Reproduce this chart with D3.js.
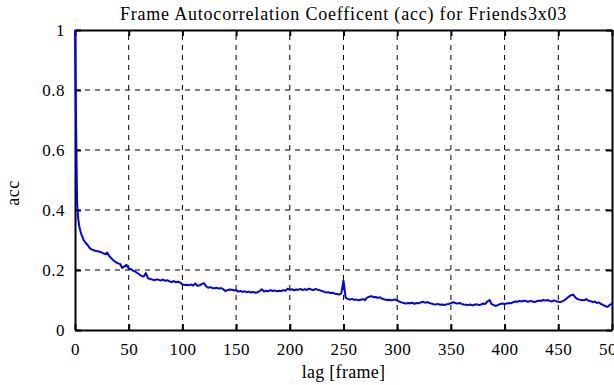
<!DOCTYPE html>
<html><head><meta charset="utf-8">
<script src="https://cdn.jsdelivr.net/npm/d3@7"></script>
<style>body{margin:0;background:#fff}svg{display:block}text{font-family:"Liberation Serif","DejaVu Serif",serif;fill:#000}</style>
</head><body><div id="chart"></div>
<script>
const title = "Frame Autocorrelation Coefficent (acc) for Friends3x03";
const xLabel = "lag [frame]";
const yLabel = "acc";
const xTicks = [0,50,100,150,200,250,300,350,400,450,500];
const yTicks = [0,0.2,0.4,0.6,0.8,1];
// lags 0..10 (every frame)
const headLags = [0,1,2,3,4,5,6,7,8,9,10];
const headAcc = [1.0,0.68,0.42,0.37,0.345,0.33,0.318,0.31,0.30,0.295,0.29];
// lags 12..500, every 2 frames
const tailAcc = [
0.282,0.272,0.268,0.265,0.263,
0.262,0.26,0.256,0.253,0.258,
0.246,0.238,0.232,0.226,0.222,
0.22,0.207,0.212,0.217,0.205,
0.203,0.198,0.195,0.19,0.185,
0.18,0.178,0.19,0.172,0.17,
0.168,0.166,0.169,0.167,0.165,
0.168,0.164,0.166,0.162,0.16,
0.163,0.159,0.161,0.158,0.152,
0.15,0.151,0.149,0.152,0.148,
0.155,0.147,0.149,0.153,0.156,
0.146,0.141,0.143,0.14,0.139,
0.141,0.138,0.14,0.136,0.13,
0.133,0.135,0.134,0.132,0.133,
0.128,0.13,0.127,0.129,0.126,
0.128,0.125,0.127,0.124,0.126,
0.13,0.136,0.128,0.131,0.129,
0.133,0.13,0.132,0.129,0.131,
0.13,0.133,0.131,0.138,0.134,
0.136,0.132,0.135,0.134,0.137,
0.133,0.136,0.134,0.138,0.135,
0.133,0.137,0.134,0.132,0.13,
0.127,0.125,0.126,0.123,0.124,
0.121,0.12,0.118,0.122,0.165,
0.107,0.104,0.101,0.104,0.1,
0.102,0.099,0.101,0.103,0.1,
0.108,0.111,0.113,0.109,0.11,
0.107,0.109,0.104,0.102,0.1,
0.101,0.099,0.1,0.102,0.098,
0.095,0.092,0.09,0.088,0.09,
0.089,0.091,0.087,0.09,0.089,
0.092,0.094,0.091,0.093,0.09,
0.088,0.086,0.085,0.087,0.084,
0.085,0.083,0.086,0.087,0.089,
0.093,0.09,0.088,0.09,0.087,
0.085,0.084,0.083,0.085,0.082,
0.084,0.086,0.083,0.085,0.088,
0.087,0.095,0.1,0.086,0.083,
0.08,0.084,0.087,0.088,0.087,
0.088,0.09,0.089,0.093,0.095,
0.094,0.097,0.095,0.098,0.096,
0.094,0.097,0.095,0.093,0.096,
0.098,0.097,0.1,0.098,0.1,
0.097,0.095,0.099,0.096,0.094,
0.093,0.096,0.1,0.106,0.112,
0.116,0.118,0.108,0.103,0.101,
0.1,0.099,0.103,0.098,0.096,
0.093,0.095,0.09,0.092,0.086,
0.083,0.079,0.077,0.084,0.088
];
const tailLags = d3.range(tailAcc.length).map(i => 12 + 2*i);
const data = headLags.map((l,i)=>({lag:l, v:headAcc[i]}))
  .concat(tailLags.map((l,i)=>({lag:l, v:tailAcc[i]})));

const W = 614, H = 385;
const m = {left:75, right:2, top:30, bottom:55};
const svg = d3.select("#chart").append("svg").attr("width",W).attr("height",H);
const x = d3.scaleLinear().domain([0,500]).range([m.left, W - m.right]);
const y = d3.scaleLinear().domain([0,1]).range([H - m.bottom, m.top]);

// grid
const g = svg.append("g");
g.selectAll(".vg").data(xTicks.slice(1,-1)).enter().append("line")
  .attr("x1",d=>x(d)).attr("x2",d=>x(d)).attr("y1",y(0)).attr("y2",y(1))
  .attr("stroke","#000").attr("stroke-width",1).attr("stroke-dasharray","5,5");
g.selectAll(".hg").data(yTicks.slice(1,-1)).enter().append("line")
  .attr("x1",x(0)).attr("x2",x(500)).attr("y1",d=>y(d)).attr("y2",d=>y(d))
  .attr("stroke","#000").attr("stroke-width",1).attr("stroke-dasharray","5,5");

// axes with inward ticks
const fmt = d => d3.format("~g")(d);
const axB = svg.append("g").attr("transform",`translate(0,${y(0)})`)
  .call(d3.axisBottom(x).tickValues(xTicks).tickSizeInner(-6).tickSizeOuter(0).tickPadding(13).tickFormat(fmt));
const axT = svg.append("g").attr("transform",`translate(0,${y(1)})`)
  .call(d3.axisTop(x).tickValues(xTicks).tickSizeInner(-6).tickSizeOuter(0).tickFormat(""));
const axL = svg.append("g").attr("transform",`translate(${x(0)},0)`)
  .call(d3.axisLeft(y).tickValues(yTicks).tickSizeInner(-6).tickSizeOuter(0).tickPadding(10).tickFormat(fmt));
const axR = svg.append("g").attr("transform",`translate(${x(500)},0)`)
  .call(d3.axisRight(y).tickValues(yTicks).tickSizeInner(-6).tickSizeOuter(0).tickFormat(""));
[axB,axT,axL,axR].forEach(a=>{
  a.select(".domain").attr("stroke","#000").attr("stroke-width",2);
  a.selectAll(".tick line").attr("stroke","#000").attr("stroke-width",2);
  a.selectAll("text").attr("font-family","'Liberation Serif',serif").attr("font-size",17).attr("letter-spacing",0.5).attr("fill","#000");
});

// line
const line = d3.line().x(d=>x(d.lag)).y(d=>y(d.v));
svg.append("path").datum(data).attr("d",line)
  .attr("fill","none").attr("stroke","#0000ff").attr("stroke-width",2).attr("stroke-linejoin","round");

// texts
svg.append("text").attr("x",(x(0)+x(500))/2).attr("y",20).attr("text-anchor","middle").attr("font-size",18).attr("letter-spacing",0.8).text(title);
svg.append("text").attr("x",(x(0)+x(500))/2).attr("y",378).attr("text-anchor","middle").attr("font-size",18).attr("letter-spacing",0.3).text(xLabel);
svg.append("text").attr("transform","translate(19,193) rotate(-90)").attr("text-anchor","middle").attr("font-size",18).attr("letter-spacing",0.5).text(yLabel);
</script></body></html>
